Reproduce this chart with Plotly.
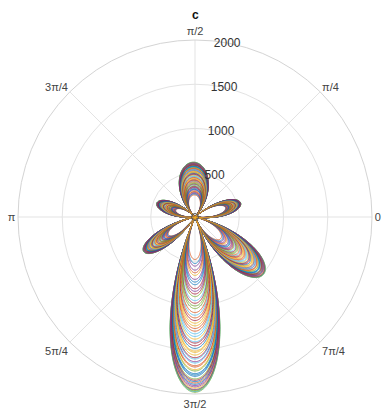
import numpy as np
import plotly.graph_objects as go

# Lobe description (degrees / radial units)
lobe_angle = [92, 17, 160, 214, 270, 320]
lobe_rmax = [620, 540, 460, 700, 1980, 1010]
lobe_rmin = [250, 360, 230, 360, 480, 380]
lobe_halfwidth = [44, 24, 25, 22, 23, 27]

# relative size of each plotted curve inside the lobe envelopes
curve_fraction = [0.00, 0.03, 0.05, 0.08, 0.10, 0.12, 0.15, 0.17, 0.19, 0.22,
                  0.24, 0.26, 0.28, 0.31, 0.33, 0.35, 0.37, 0.40, 0.42, 0.44,
                  0.46, 0.48, 0.50, 0.52, 0.54, 0.56, 0.58, 0.60, 0.62, 0.63,
                  0.65, 0.67, 0.69, 0.70, 0.72, 0.74, 0.75, 0.77, 0.78, 0.80,
                  0.81, 0.83, 0.84, 0.86, 0.87, 0.88, 0.90, 0.91, 0.92, 0.93,
                  0.94, 0.95, 0.96, 0.97, 0.98, 0.985, 0.99, 0.995, 1.00]

tick_vals = [0, 45, 90, 135, 180, 225, 270, 315]
tick_text = ["0", "π/4", "π/2", "3π/4", "π", "5π/4", "3π/2", "7π/4"]
r_ticks = [500, 1000, 1500, 2000]

colors = ["#0072BD", "#D95319", "#EDB120", "#7E2F8E", "#77AC30", "#4DBEEE", "#A2142F"]

theta = np.linspace(0, 360, 1441)
order = [7, 23, 41, 2, 55, 13, 30, 48, 19, 5, 37, 58, 26, 11, 44, 0, 33, 52, 16, 28,
         9, 50, 39, 21, 3, 46, 57, 14, 31, 24, 53, 6, 42, 18, 35, 1, 49, 27, 10, 56,
         38, 20, 45, 4, 32, 54, 15, 25, 47, 8, 40, 22, 51, 12, 36, 29, 43, 17, 34]

fig = go.Figure()
for i, idx in enumerate(order):
    f = curve_fraction[idx]
    r = np.zeros_like(theta)
    for a, rmx, rmn, hw in zip(lobe_angle, lobe_rmax, lobe_rmin, lobe_halfwidth):
        R = rmn + f * (rmx - rmn)
        phi = (theta - a + 180) % 360 - 180
        inside = np.abs(phi) < hw
        r[inside] += R * np.cos(np.pi / 2 * phi[inside] / hw)
    fig.add_trace(go.Scatterpolar(r=r, theta=theta, mode="lines",
                                  line=dict(color=colors[i % len(colors)], width=0.8),
                                  hoverinfo="skip", showlegend=False))

fig.add_trace(go.Scatterpolar(r=[0], theta=[0], mode="markers",
                              marker=dict(symbol="circle-open", size=7, color="#555",
                                          line=dict(width=1)),
                              hoverinfo="skip", showlegend=False))

fig.update_layout(
    width=383, height=418,
    margin=dict(l=18, r=11, t=40, b=24),
    paper_bgcolor="white",
    font=dict(family="Liberation Sans, Arial, sans-serif", size=11, color="#333"),
    title=dict(text="<b>c</b>", x=0.51, xanchor="center", y=0.975, yanchor="top",
               font=dict(size=12, color="#111")),
    polar=dict(
        domain=dict(x=[0, 1], y=[0, 1]),
        bgcolor="white",
        angularaxis=dict(tickmode="array", tickvals=tick_vals, ticktext=tick_text,
                         direction="counterclockwise", rotation=0, ticks="",
                         showline=True, linecolor="#d4d4d4", linewidth=1,
                         gridcolor="#e3e3e3", gridwidth=1,
                         tickfont=dict(size=11, color="#444")),
        radialaxis=dict(range=[0, 2000], tickmode="array", tickvals=r_ticks,
                        angle=86, tickangle=86, side="clockwise",
                        showline=False, ticks="",
                        gridcolor="#e3e3e3", gridwidth=1,
                        tickfont=dict(size=12, color="#333")),
    ),
)

fig.write_html("out.html")
